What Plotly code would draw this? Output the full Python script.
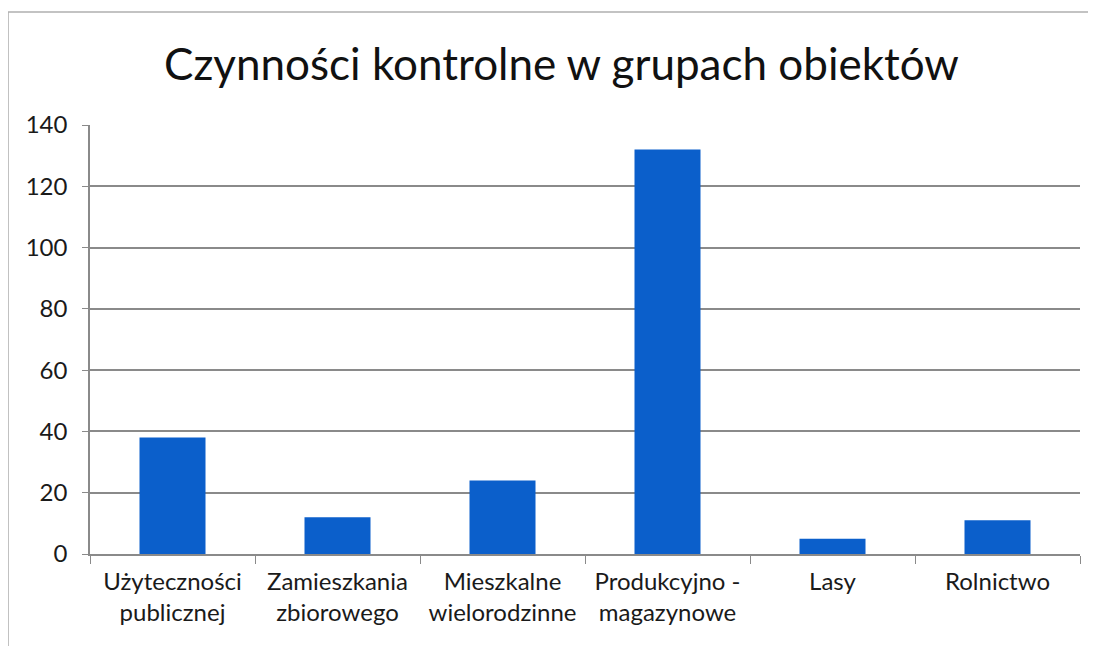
import plotly.graph_objects as go

categories = ["Użyteczności<br>publicznej", "Zamieszkania<br>zbiorowego", "Mieszkalne<br>wielorodzinne",
              "Produkcyjno -<br>magazynowe", "Lasy", "Rolnictwo"]
values = [38, 12, 24, 132, 5, 11]
y_ticks = [0, 20, 40, 60, 80, 100, 120, 140]

fig = go.Figure()
fig.add_trace(go.Bar(x=categories, y=values, marker_color="#0b5fcb", marker_line_width=0, width=0.4))

fig.update_layout(
    width=1096, height=646,
    margin=dict(l=82, r=24, t=117, b=100),
    paper_bgcolor="white", plot_bgcolor="white",
    font=dict(family="Lato, Open Sans, sans-serif", color="#1a1a1a"),
    title=dict(text="Czynności kontrolne w grupach obiektów", x=0.505, xanchor="center",
               y=0.912, yanchor="middle", font=dict(size=44, family="Lato, sans-serif", color="#111")),
    showlegend=False,
    bargap=0.6,
)

fig.update_yaxes(range=[0, 140], tickvals=y_ticks, showgrid=True, gridcolor="#8a8a8a", gridwidth=1.5,
                 showline=True, linecolor="#8a8a8a", linewidth=1.5, ticks="outside", ticklen=6,
                 tickcolor="#8a8a8a", tickfont=dict(size=24), zeroline=False, automargin=False,
                 ticklabelstandoff=10)
fig.update_xaxes(showline=True, linecolor="#8a8a8a", linewidth=1.5, ticks="outside", tickson="boundaries",
                 ticklen=8, tickcolor="#8a8a8a", tickfont=dict(size=24), automargin=False,
                 ticklabelstandoff=5)

# outer frame of the chart
fig.add_shape(type="rect", xref="paper", yref="paper", x0=-0.0828, x1=1.03, y0=-0.3, y1=1.2634,
              line=dict(color="#b0b0b0", width=1.5))

fig.write_html("out.html")
